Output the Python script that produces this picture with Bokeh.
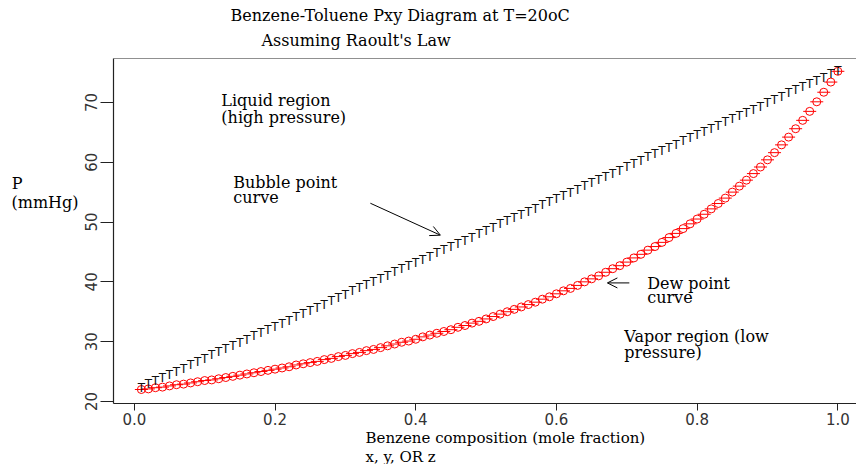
from bokeh.plotting import figure
from bokeh.models import Label, Arrow, OpenHead, Span, FixedTicker, ColumnDataSource, Title
from bokeh.core.properties import value
from bokeh.embed import file_html
from bokeh.resources import INLINE

# Benzene mole fraction (x for bubble curve, y for dew curve)
composition = [round(0.01 * i, 2) for i in range(1, 101)]

# Bubble point pressure (mmHg)
bubble_p = [22.3, 22.9, 23.4, 23.9, 24.5, 25.0, 25.5, 26.1, 26.6, 27.1,
            27.7, 28.2, 28.7, 29.3, 29.8, 30.3, 30.9, 31.4, 31.9, 32.5,
            33.0, 33.5, 34.1, 34.6, 35.1, 35.7, 36.2, 36.8, 37.3, 37.8,
            38.4, 38.9, 39.4, 40.0, 40.5, 41.0, 41.6, 42.1, 42.6, 43.2,
            43.7, 44.2, 44.8, 45.3, 45.8, 46.4, 46.9, 47.4, 48.0, 48.5,
            49.0, 49.6, 50.1, 50.6, 51.2, 51.7, 52.2, 52.8, 53.3, 53.8,
            54.4, 54.9, 55.4, 56.0, 56.5, 57.0, 57.6, 58.1, 58.6, 59.2,
            59.7, 60.2, 60.8, 61.3, 61.9, 62.4, 62.9, 63.5, 64.0, 64.5,
            65.1, 65.6, 66.1, 66.7, 67.2, 67.7, 68.3, 68.8, 69.3, 69.9,
            70.4, 70.9, 71.5, 72.0, 72.5, 73.1, 73.6, 74.1, 74.7, 75.2]

# Dew point pressure (mmHg)
dew_p = [22.0, 22.1, 22.3, 22.4, 22.6, 22.8, 22.9, 23.1, 23.3, 23.5,
         23.6, 23.8, 24.0, 24.2, 24.4, 24.6, 24.8, 25.0, 25.2, 25.4,
         25.6, 25.8, 26.1, 26.3, 26.5, 26.7, 27.0, 27.2, 27.5, 27.7,
         28.0, 28.2, 28.5, 28.7, 29.0, 29.3, 29.6, 29.9, 30.1, 30.4,
         30.8, 31.1, 31.4, 31.7, 32.0, 32.4, 32.7, 33.1, 33.4, 33.8,
         34.2, 34.6, 35.0, 35.4, 35.8, 36.2, 36.6, 37.1, 37.5, 38.0,
         38.5, 38.9, 39.4, 40.0, 40.5, 41.0, 41.6, 42.2, 42.7, 43.3,
         44.0, 44.6, 45.3, 45.9, 46.6, 47.4, 48.1, 48.9, 49.7, 50.5,
         51.3, 52.2, 53.1, 54.0, 55.0, 56.0, 57.0, 58.1, 59.2, 60.4,
         61.6, 62.9, 64.2, 65.6, 67.0, 68.5, 70.1, 71.7, 73.4, 75.2]

x_ticks = [0.0, 0.2, 0.4, 0.6, 0.8, 1.0]
y_ticks = [20, 30, 40, 50, 60, 70]

title_text = "Benzene-Toluene Pxy Diagram at T=20oC"
subtitle_text = "Assuming Raoult's Law"
xlabel_1 = "Benzene composition (mole fraction)"
xlabel_2 = "x, y, OR z"
ylabel_lines = ["P", "(mmHg)"]

SERIF = "DejaVu Serif"
SANS = "DejaVu Sans"
NB = "\u00a0"

p = figure(width=856, height=464, output_backend="svg", toolbar_location=None,
           x_range=(-0.0296, 1.0265), y_range=(19.66, 77.34),
           min_border_left=113, min_border_right=0, min_border_top=58,
           min_border_bottom=60)
p.outline_line_color = None
p.background_fill_color = "white"
p.border_fill_color = "white"
p.xgrid.visible = False
p.ygrid.visible = False

for ax in (p.xaxis[0], p.yaxis[0]):
    ax.axis_line_color = "#222222"
    ax.axis_line_width = 1.2
    ax.major_tick_line_color = "#222222"
    ax.minor_tick_line_color = None
    ax.major_tick_in = 0
    ax.major_label_text_font = SANS
    ax.major_label_text_font_size = "15px"
    ax.major_label_text_color = "#333333"

p.xaxis[0].ticker = FixedTicker(ticks=x_ticks)
p.xaxis[0].major_tick_out = 7
p.xaxis[0].major_label_standoff = 2
p.xaxis[0].major_label_overrides = {t: f"{t:.1f}" for t in x_ticks}

p.yaxis[0].ticker = FixedTicker(ticks=y_ticks)
p.yaxis[0].major_tick_out = 13
p.yaxis[0].major_label_standoff = 3
p.yaxis[0].major_label_orientation = "vertical"

# y label: horizontal, multi-line, left-aligned via padding, shifted up with blank lines
pad = len(ylabel_lines[1]) * 2 - 1
ylab = [ylabel_lines[0] + NB * pad, ylabel_lines[1]]
p.yaxis[0].axis_label = "\n".join(ylab + [NB] * 4)
p.yaxis[0].axis_label_orientation = "horizontal"
p.yaxis[0].axis_label_text_font = SERIF
p.yaxis[0].axis_label_text_font_size = "16px"
p.yaxis[0].axis_label_text_font_style = "normal"
p.yaxis[0].axis_label_text_color = "black"
p.yaxis[0].axis_label_text_line_height = 1.0
p.yaxis[0].axis_label_standoff = 4

# titles above (first added is nearest the frame)
p.add_layout(Title(text=subtitle_text, align="left", offset=148, standoff=13,
                   vertical_align="top", text_font=SERIF, text_font_size="16px",
                   text_font_style="normal", text_color="black"), "above")
p.add_layout(Title(text=title_text, align="left", offset=117, standoff=0,
                   vertical_align="bottom", text_font=SERIF, text_font_size="16px",
                   text_font_style="normal", text_color="black"), "above")

# x label below
p.add_layout(Title(text=xlabel_1, align="left", offset=252, standoff=3,
                   vertical_align="top", text_font=SERIF, text_font_size="15px",
                   text_font_style="normal", text_color="black"), "below")
p.add_layout(Title(text=xlabel_2, align="left", offset=252, standoff=-6,
                   vertical_align="top", text_font=SERIF, text_font_size="15px",
                   text_font_style="normal", text_color="black"), "below")

p.add_layout(Span(location=77.34, dimension="width", line_color="#222222", line_width=1.2))

src = ColumnDataSource(dict(x=composition, bub=bubble_p, dew=dew_p,
                            t=["T"] * len(composition)))

# dew point curve: red open circles with a dash
p.scatter("x", "dew", source=src, marker="circle", size=8, fill_color=None,
          line_color="red", line_width=1)
p.scatter("x", "dew", source=src, marker="dash", size=13,
          line_color="red", line_width=1)

# bubble point curve: black T-shaped marks
p.text("x", "bub", text="t", source=src, text_font=value(SANS),
       text_font_size="12px", text_color="#111111",
       text_align="center", text_baseline="middle")

def lab(x, y, txt):
    p.add_layout(Label(x=x, y=y, text=txt, text_font=SERIF, text_font_size="16px",
                       text_color="black", text_align="left", text_baseline="middle"))

lab(0.1237, 70.37, "Liquid region")
lab(0.1237, 67.53, "(high pressure)")
lab(0.1407, 56.68, "Bubble point")
lab(0.1407, 54.17, "curve")
lab(0.729, 39.8, "Dew point")
lab(0.729, 37.36, "curve")
lab(0.6965, 30.8, "Vapor region (low")
lab(0.6965, 28.13, "pressure)")

p.add_layout(Arrow(x_start=0.3355, y_start=53.14, x_end=0.435, y_end=47.8,
                   line_color="black", line_width=1,
                   end=OpenHead(size=10, line_color="black", line_width=1)))
p.add_layout(Arrow(x_start=0.7036, y_start=39.82, x_end=0.6724, y_end=39.82,
                   line_color="black", line_width=1,
                   end=OpenHead(size=10, line_color="black", line_width=1)))

open("out.html", "w").write(file_html(p, INLINE))
